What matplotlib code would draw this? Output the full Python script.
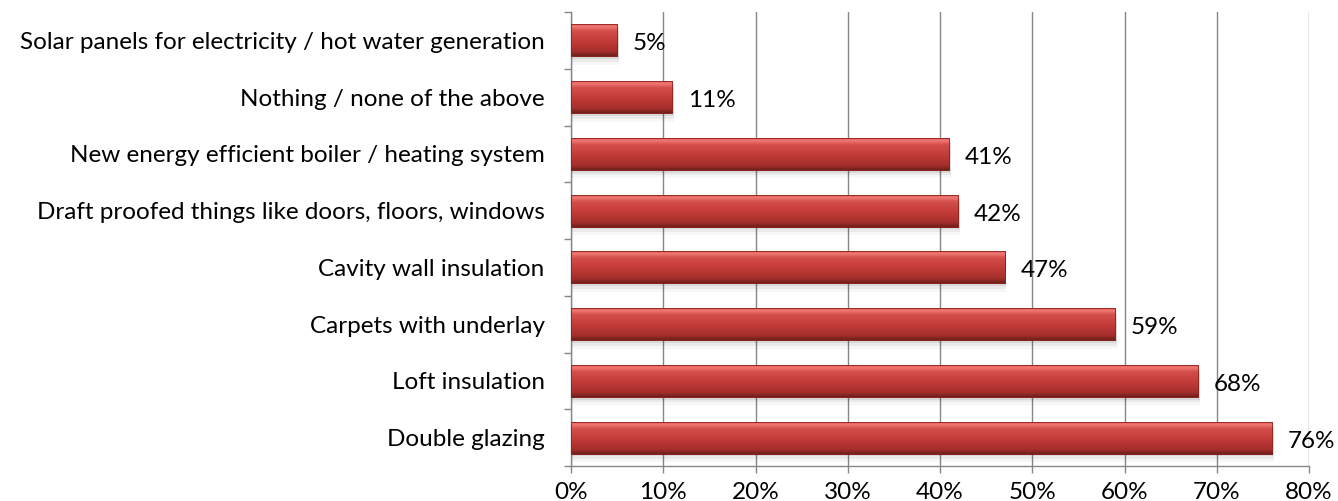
import numpy as np
import matplotlib
matplotlib.use('Agg')
import matplotlib.pyplot as plt
from matplotlib.colors import LinearSegmentedColormap

# data (top to bottom as shown)
categories = [
    'Solar panels for electricity / hot water generation',
    'Nothing / none of the above',
    'New energy efficient boiler / heating system',
    'Draft proofed things like doors, floors, windows',
    'Cavity wall insulation',
    'Carpets with underlay',
    'Loft insulation',
    'Double glazing',
]
values = [5, 11, 41, 42, 47, 59, 68, 76]
x_ticks = [0, 10, 20, 30, 40, 50, 60, 70, 80]

plt.rcParams['font.family'] = ['Lato', 'DejaVu Sans']
FS = 17.5

fig = plt.figure(figsize=(13.38, 5.01), dpi=100)
ax = fig.add_axes([571 / 1338, 1 - 466 / 501, (1309 - 571) / 1338, (466 - 12) / 501])

n = len(categories)
ypos = np.arange(n)[::-1]
bar_h = 0.56

# soft shadow under bars
for k, a in [(0.05, 0.08), (0.10, 0.05), (0.15, 0.03)]:
    ax.barh(ypos - k, np.array(values) + 0.2, height=bar_h, color='#000000',
            alpha=a, zorder=2, linewidth=0)

bars = ax.barh(ypos, values, height=bar_h, color='#c0392f', zorder=3,
               edgecolor='#7a1a16', linewidth=0.6)

# cylinder-like shading
cmap = LinearSegmentedColormap.from_list('redshade', [
    (0.0, '#6e1e1c'), (0.15, '#a62f2c'), (0.5, '#c53c39'),
    (0.8, '#d4504c'), (0.92, '#f27a75'), (1.0, '#e05a55')])
grad = np.linspace(0, 1, 256).reshape(-1, 1)
for b in bars:
    x0, y0 = b.get_x(), b.get_y()
    w, h = b.get_width(), b.get_height()
    im = ax.imshow(grad, cmap=cmap, aspect='auto', origin='lower',
                   extent=[x0, x0 + w, y0, y0 + h], zorder=3.5, interpolation='bicubic')
    im.set_clip_path(b)
    ax.add_patch(plt.Rectangle((x0, y0), w, h, fill=False, edgecolor='#8a2420',
                               linewidth=0.6, zorder=4))

for y, v in zip(ypos, values):
    ax.text(v + 1.7, y - 0.06, f'{v}%', va='center', ha='left', fontsize=FS, color='black')

ax.set_xlim(0, 80)
ax.set_ylim(-0.5, n - 0.5)
ax.set_xticks(x_ticks)
ax.set_xticklabels([f'{t}%' for t in x_ticks], fontsize=FS)
ax.set_yticks(ypos)
ax.set_yticklabels(categories, fontsize=FS)
ax.set_yticks(np.arange(n + 1) - 0.5, minor=True)
ax.tick_params(axis='y', which='major', length=0, pad=19)
ax.tick_params(axis='y', which='minor', length=5, color='#868686', width=1)
ax.tick_params(axis='x', length=5, color='#868686', width=1, pad=6.5)

ax.grid(axis='x', color='#868686', linewidth=1, zorder=0)
ax.set_axisbelow(True)
for s in ['top', 'right']:
    ax.spines[s].set_visible(False)
for s in ['left', 'bottom']:
    ax.spines[s].set_color('#868686')
    ax.spines[s].set_linewidth(1)

fig.savefig('out.png', dpi=100)
